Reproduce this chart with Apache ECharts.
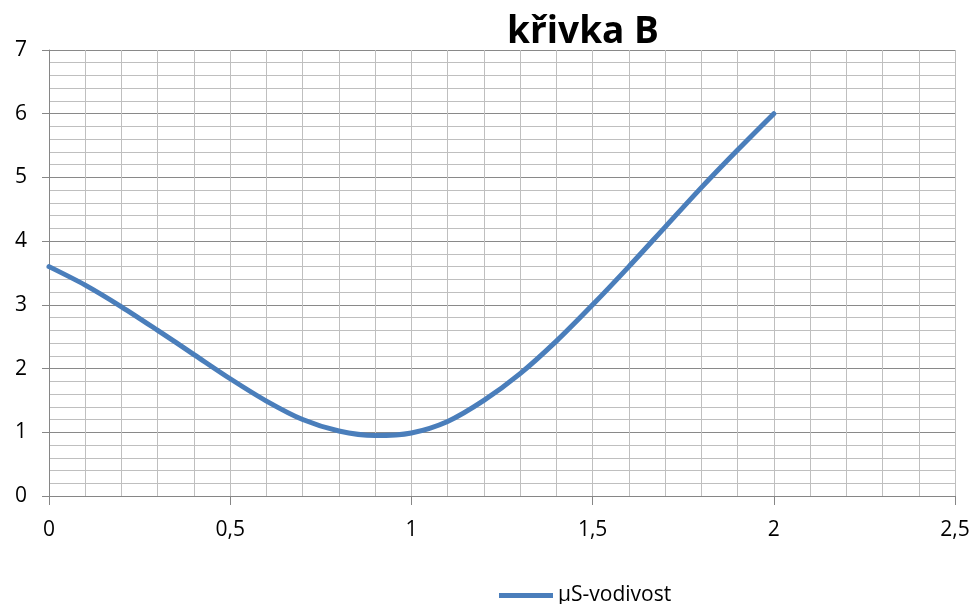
<!DOCTYPE html>
<html>
<head>
<meta charset="utf-8">
<script src="https://cdn.jsdelivr.net/npm/echarts@6/dist/echarts.min.js"></script>
<style>html,body{margin:0;padding:0;background:#fff}#c{width:975px;height:604px}</style>
</head>
<body>
<div id="c"></div>
<script>
const titleText = 'křivka B';
const seriesName = 'µS-vodivost';
const xValues = [0, 0.1, 0.2, 0.3, 0.4, 0.5, 0.6, 0.7, 0.8, 0.9, 1.0, 1.1, 1.2, 1.3, 1.4, 1.5, 1.6, 1.7, 1.8, 1.9, 2.0];
const yValues = [3.6, 3.31, 2.97, 2.6, 2.22, 1.84, 1.49, 1.2, 1.02, 0.95, 0.99, 1.17, 1.5, 1.92, 2.43, 3.0, 3.6, 4.22, 4.84, 5.43, 6.0];

const font = '"Open Sans", "Noto Sans", sans-serif';
const chart = echarts.init(document.getElementById('c'), null, {renderer: 'canvas'});
chart.setOption({
  animation: false,
  backgroundColor: '#ffffff',
  title: {
    text: titleText,
    left: 578,
    top: 9,
    textAlign: 'center',
    textStyle: {fontFamily: font, fontWeight: 'bold', fontSize: 37, color: '#000'}
  },
  legend: {
    data: [seriesName],
    left: 494,
    top: 580,
    icon: 'rect',
    itemWidth: 54,
    itemHeight: 5,
    textStyle: {fontFamily: font, fontSize: 21, color: '#000', padding: [0, 0, 0, 0]}
  },
  grid: {left: 49, right: 20, top: 50, bottom: 108, containLabel: false},
  xAxis: {
    type: 'value', min: 0, max: 2.5, interval: 0.5,
    axisLine: {show: true, lineStyle: {color: '#868686', width: 1}},
    axisTick: {show: true, length: 9, lineStyle: {color: '#868686'}},
    axisLabel: {margin: 24, fontFamily: font, fontSize: 21, color: '#000',
      formatter: v => String(v).replace('.', ',')},
    splitLine: {show: true, lineStyle: {color: '#bfbfbf', width: 1}},
    minorTick: {show: false, splitNumber: 5},
    minorSplitLine: {show: true, lineStyle: {color: '#bfbfbf', width: 1}}
  },
  yAxis: {
    type: 'value', min: 0, max: 7, interval: 1,
    axisLine: {show: true, lineStyle: {color: '#868686', width: 1}},
    axisTick: {show: true, length: 7, lineStyle: {color: '#868686'}},
    axisLabel: {margin: 22, fontFamily: font, fontSize: 21, color: '#000'},
    splitLine: {show: true, lineStyle: {color: '#898989', width: 1}},
    minorTick: {show: false, splitNumber: 5},
    minorSplitLine: {show: true, lineStyle: {color: '#bfbfbf', width: 1}}
  },
  series: [{
    name: seriesName,
    type: 'line',
    data: xValues.map((x, i) => [x, yValues[i]]),
    smooth: 0.3,
    showSymbol: false,
    symbol: 'none',
    lineStyle: {color: '#4a7ebb', width: 5, cap: 'round', join: 'round'},
    itemStyle: {color: '#4a7ebb'}
  }]
});
</script>
</body>
</html>
